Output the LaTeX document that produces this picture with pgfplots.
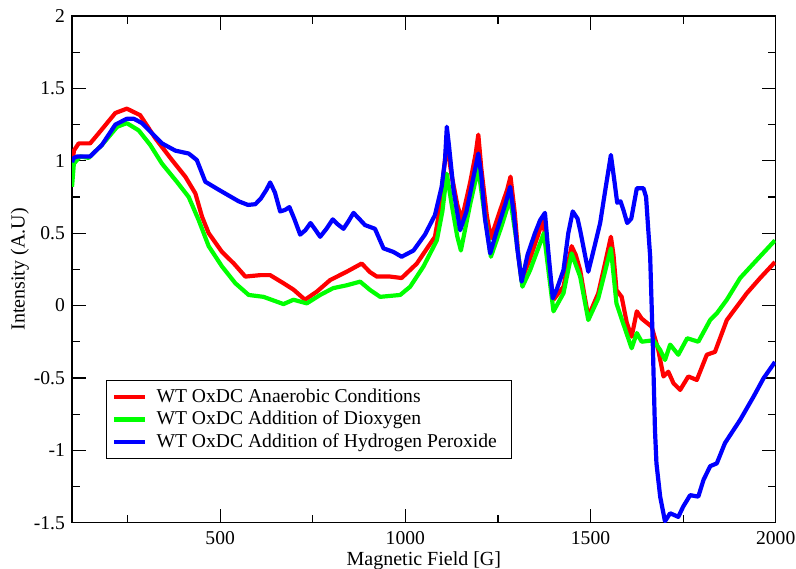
\documentclass[border=0pt]{standalone}
\usepackage{fontspec}
\setmainfont{Liberation Serif}
\usepackage{pgfplots}
\pgfplotsset{compat=1.18}
\begin{document}
\begin{tikzpicture}
\begin{axis}[
  name=ax,
  scale only axis,
  width=351.8pt, height=253.3pt,
  xmin=100, xmax=2000, ymin=-1.5, ymax=2,
  xtick={500,1000,1500,2000},
  xticklabels={500,1000,1500,2000},
  minor xtick={250,750,1250,1750},
  ytick={-1.5,-1,-0.5,0,0.5,1,1.5,2},
  yticklabels={-1.5,-1,-0.5,0,0.5,1,1.5,2},
  minor ytick={-1.25,-0.75,-0.25,0.25,0.75,1.25,1.75},
  tick align=inside,
  major tick length=7pt, minor tick length=4pt,
  every tick/.style={black, line width=0.6pt},
  axis line style={line width=0.7pt},
  ticklabel style={font=\fontsize{9.8}{11}\selectfont},
  xticklabel style={yshift=-1pt},
  xlabel={Magnetic Field [G]},
  ylabel={Intensity (A.U)},
  label style={font=\fontsize{9.8}{11}\selectfont},
  every axis x label/.style={at={(axis description cs:0.5,0)}, yshift=-19pt, anchor=center},
  every axis y label/.style={at={(axis description cs:-0.074,0.5)}, rotate=90, anchor=center},
  legend style={at={(axis description cs:0.048,0.126)}, anchor=south west, draw=black, line width=0.6pt,
    font=\fontsize{9.8}{11}\selectfont, row sep=-1.2pt, inner xsep=3pt, inner ysep=2pt},
  legend cell align=left,
  legend image code/.code={\draw[#1, line width=2.1pt] (0pt,0pt) -- (15.5pt,0pt);},
  legend style={nodes={inner xsep=4.5pt}},
  every axis plot/.append style={line width=2.1pt, line join=round},
]
\addplot[red] coordinates {
(100,0.93) (105,1.07) (118,1.12) (149,1.12) (172,1.19) (217,1.33) (248,1.36) (284,1.315) (325,1.155) (370,1.005)
(406,0.89) (433,0.775) (451,0.614) (469,0.50) (505,0.37) (537,0.29) (568,0.20) (608,0.21) (635,0.21) (671,0.154)
(698,0.11) (729,0.04) (761,0.096) (797,0.176) (842,0.234) (882,0.29) (905,0.23) (923,0.20) (959,0.20) (990,0.19)
(1031,0.29) (1060,0.40) (1080,0.475) (1095,0.70) (1102,0.89) (1112,1.12) (1125,0.90) (1140,0.70) (1152,0.59)
(1175,0.85) (1190,1.05) (1197,1.18) (1205,0.95) (1220,0.62) (1231,0.465) (1255,0.65) (1275,0.80) (1284,0.89)
(1295,0.65) (1305,0.35) (1314,0.176) (1337,0.326) (1360,0.50) (1372,0.60) (1385,0.30) (1400,0.04) (1427,0.13)
(1440,0.30) (1449,0.41) (1460,0.35) (1472,0.245) (1485,0.05) (1494,-0.077) (1521,0.085) (1540,0.30) (1555,0.475)
(1562,0.35) (1570,0.107) (1584,0.06) (1598,-0.12) (1611,-0.215) (1625,-0.04) (1638,-0.09) (1665,-0.146)
(1683,-0.307) (1697,-0.49) (1710,-0.457) (1724,-0.537) (1742,-0.583) (1764,-0.49) (1787,-0.514) (1814,-0.34)
(1836,-0.32) (1868,-0.10) (1922,0.085) (1958,0.19) (1998,0.30)
};
\addlegendentry{WT OxDC Anaerobic Conditions}
\addplot[green] coordinates {
(100,0.82) (105,0.98) (122,1.03) (145,1.02) (181,1.11) (222,1.235) (248,1.26) (280,1.21) (311,1.11) (343,0.98)
(383,0.855) (415,0.75) (442,0.59) (469,0.41) (505,0.27) (541,0.154) (577,0.073) (617,0.06) (671,0.01) (698,0.04)
(734,0.015) (770,0.073) (805,0.12) (842,0.14) (878,0.165) (905,0.107) (932,0.06) (986,0.073) (1013,0.13)
(1049,0.27) (1085,0.45) (1100,0.65) (1112,0.91) (1125,0.70) (1140,0.48) (1150,0.38) (1175,0.70) (1197,0.95)
(1210,0.70) (1231,0.337) (1260,0.55) (1283,0.74) (1300,0.45) (1316,0.13) (1337,0.245) (1374,0.50) (1400,-0.04)
(1427,0.085) (1449,0.36) (1472,0.20) (1494,-0.10) (1521,0.05) (1555,0.395) (1570,0.015) (1585,-0.10)
(1611,-0.295) (1625,-0.19) (1638,-0.25) (1670,-0.24) (1688,-0.307) (1701,-0.376) (1715,-0.27) (1737,-0.34)
(1761,-0.226) (1791,-0.25) (1823,-0.10) (1841,-0.054) (1868,0.04) (1904,0.19) (1949,0.315) (1998,0.45)
};
\addlegendentry{WT OxDC Addition of Dioxygen}
\addplot[blue] coordinates {
(100,0.99) (105,1.02) (115,1.03) (149,1.03) (181,1.11) (217,1.25) (248,1.29) (267,1.29) (289,1.26) (316,1.19)
(343,1.12) (379,1.07) (415,1.05) (437,1.005) (460,0.855) (496,0.80) (523,0.76) (550,0.72) (575,0.695) (595,0.70)
(610,0.74) (625,0.80) (635,0.85) (648,0.78) (662,0.65) (675,0.66) (687,0.68) (700,0.60) (716,0.49) (730,0.52)
(744,0.57) (758,0.52) (770,0.475) (787,0.53) (804,0.595) (818,0.56) (833,0.53) (846,0.58) (860,0.64) (875,0.60)
(891,0.556) (918,0.53) (941,0.395) (968,0.37) (990,0.337) (1022,0.38) (1053,0.49) (1080,0.625) (1098,0.82)
(1107,1.0) (1112,1.235) (1118,1.10) (1130,0.80) (1148,0.52) (1165,0.65) (1185,0.90) (1197,1.05) (1205,0.90)
(1215,0.60) (1229,0.36) (1245,0.50) (1270,0.70) (1283,0.82) (1292,0.65) (1302,0.40) (1314,0.165) (1330,0.35)
(1350,0.50) (1364,0.59) (1377,0.64) (1385,0.40) (1398,0.05) (1410,0.12) (1427,0.245) (1440,0.50) (1452,0.65)
(1465,0.60) (1472,0.52) (1485,0.35) (1494,0.234) (1510,0.40) (1526,0.57) (1540,0.80) (1555,1.04) (1565,0.85)
(1572,0.71) (1581,0.72) (1590,0.65) (1599,0.57) (1610,0.60) (1625,0.81) (1643,0.81) (1650,0.75) (1656,0.52)
(1661,0.34) (1668,-0.25) (1674,-0.86) (1678,-1.09) (1688,-1.32) (1701,-1.49) (1715,-1.435) (1737,-1.46)
(1750,-1.39) (1769,-1.31) (1791,-1.32) (1805,-1.205) (1823,-1.11) (1841,-1.09) (1863,-0.95) (1904,-0.79)
(1940,-0.63) (1967,-0.503) (1998,-0.39)
};
\addlegendentry{WT OxDC Addition of Hydrogen Peroxide}
\end{axis}
\pgfresetboundingbox
\useasboundingbox ([xshift=-36pt,yshift=-23.15pt]ax.south west) rectangle ([xshift=10.15pt,yshift=8pt]ax.north east);
\end{tikzpicture}
\end{document}
